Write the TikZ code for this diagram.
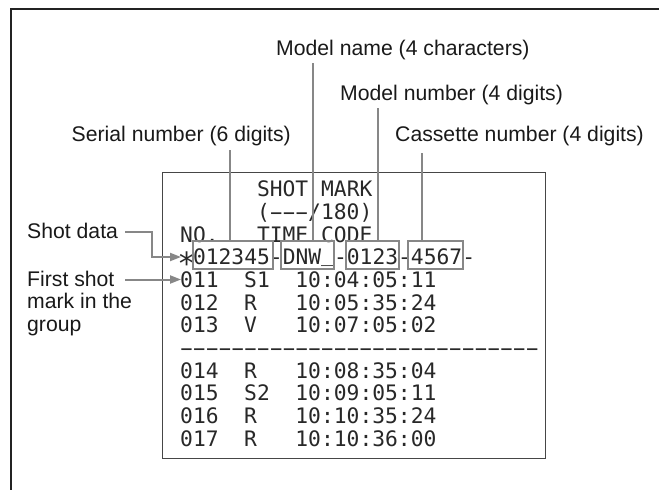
\documentclass[tikz,border=0pt]{standalone}
\usepackage{fontspec}
\setmainfont{Liberation Sans}
\newfontfamily\lcd{DejaVu Sans Mono}[Ligatures=TeXOff]
\usetikzlibrary{arrows.meta}
\definecolor{leadgray}{RGB}{135,135,135}
\definecolor{framegray}{RGB}{35,35,35}
\definecolor{boxgray}{RGB}{70,70,70}
\definecolor{inkc}{RGB}{25,25,25}
\definecolor{lcdink}{RGB}{40,40,40}
\newcommand{\lcddash}{\makebox[12.8pt][c]{\scalebox{1.9}[1]{-}}}
\newcommand{\lcdunder}{\raisebox{3pt}{\_}}
\newcommand{\lcdstar}{\makebox[12.8pt][c]{\raisebox{-3.5pt}{\scalebox{1.45}{∗}}}}
\begin{document}
\begin{tikzpicture}[x=1pt,y=-1pt,
  lbl/.style={font=\fontsize{21.2}{25}\selectfont, text=inkc, inner sep=0pt, anchor=base west},
  scr/.style={font=\lcd\fontsize{21.3}{25}\selectfont, text=lcdink, inner sep=0pt, anchor=base west},
  lead/.style={draw=leadgray, line width=2pt},
  leadarrow/.style={draw=leadgray, line width=2pt, -{Triangle[length=11pt,width=8pt]}},
  fieldbox/.style={draw=leadgray, line width=2pt, minimum height=28pt, inner sep=0pt, anchor=north west},
  screenbox/.style={draw=boxgray, line width=1.4pt, minimum width=383pt, minimum height=286pt, inner sep=0pt, anchor=north west}
]
\useasboundingbox (0,0) rectangle (659,490);
% outer frame (open to the right and bottom)
\draw[framegray, line width=2pt] (659,9) -- (11,9) -- (11,490);

% screen
\node[screenbox] (screen) at (162,172) {};

% screen text
\node[scr] (r0) at (256.8,196.7) {SHOT MARK};
\node[scr] (r1) at (256.8,219.4) {(\lcddash\lcddash\lcddash/180)};
\node[scr] (r2a) at (180,242.0) {NO.};
\node[scr] (r2b) at (256.8,242.0) {TIME CODE};
\node[scr] (r3) at (180,264.7) {\lcdstar012345-DNW\lcdunder-0123-4567-};
\node[scr] (r4a) at (180,287.3) {011};
\node[scr] (r4b) at (244,287.3) {S1};
\node[scr] (r4c) at (295.2,287.3) {10:04:05:11};
\node[scr] (r5a) at (180,310.0) {012};
\node[scr] (r5b) at (244,310.0) {R};
\node[scr] (r5c) at (295.2,310.0) {10:05:35:24};
\node[scr] (r6a) at (180,332.7) {013};
\node[scr] (r6b) at (244,332.7) {V};
\node[scr] (r6c) at (295.2,332.7) {10:07:05:02};
\node[scr] (r7) at (180,355.3) {\lcddash\lcddash\lcddash\lcddash\lcddash\lcddash\lcddash\lcddash\lcddash\lcddash\lcddash\lcddash\lcddash\lcddash\lcddash\lcddash\lcddash\lcddash\lcddash\lcddash\lcddash\lcddash\lcddash\lcddash\lcddash\lcddash\lcddash\lcddash};
\node[scr] (r8a) at (180,378.0) {014};
\node[scr] (r8b) at (244,378.0) {R};
\node[scr] (r8c) at (295.2,378.0) {10:08:35:04};
\node[scr] (r9a) at (180,400.6) {015};
\node[scr] (r9b) at (244,400.6) {S2};
\node[scr] (r9c) at (295.2,400.6) {10:09:05:11};
\node[scr] (r10a) at (180,423.3) {016};
\node[scr] (r10b) at (244,423.3) {R};
\node[scr] (r10c) at (295.2,423.3) {10:10:35:24};
\node[scr] (r11a) at (180,446.0) {017};
\node[scr] (r11b) at (244,446.0) {R};
\node[scr] (r11c) at (295.2,446.0) {10:10:36:00};

% field boxes on the shot data row
\node[fieldbox, minimum width=80pt] (serial) at (192,240) {};
\node[fieldbox, minimum width=53pt] (mname) at (280,240) {};
\node[fieldbox, minimum width=53pt] (mnum) at (345,240) {};
\node[fieldbox, minimum width=55pt] (cass) at (407,240) {};

% top labels
\node[lbl] (lmname) at (276,55) {Model name (4 characters)};
\node[lbl] (lmnum) at (340,100) {Model number (4 digits)};
\node[lbl] (lserial) at (71.5,141.5) {Serial number (6 digits)};
\node[lbl] (lcass) at (395,141.5) {Cassette number (4 digits)};

% leader lines
\coordinate (tmname) at (312.5,63);
\coordinate (tmnum) at (378,108);
\coordinate (tserial) at (230,150);
\coordinate (tcass) at (422,153);
\draw[lead] (tmname) -- (tmname |- mname.north);
\draw[lead] (tmnum) -- (tmnum |- mnum.north);
\draw[lead] (tserial) -- (tserial |- serial.north);
\draw[lead] (tcass) -- (tcass |- cass.north);

% left labels
\node[lbl] (lshot) at (27,238) {Shot data};
\node[lbl] (lfirst1) at (27,286) {First shot};
\node[lbl] (lfirst2) at (27,308.5) {mark in the};
\node[lbl] (lfirst3) at (27,331) {group};

\coordinate (sd0) at (125,231.5);
\coordinate (sd1) at (152,231.5);
\coordinate (sd2) at (152,257);
\coordinate (sdtip) at (181,257);
\draw[leadarrow] (sd0) -- (sd1) -- (sd2) -- (sdtip);
\coordinate (fs0) at (125,279.5);
\coordinate (fstip) at (181,279.5);
\draw[leadarrow] (fs0) -- (fstip);
\end{tikzpicture}
\end{document}
